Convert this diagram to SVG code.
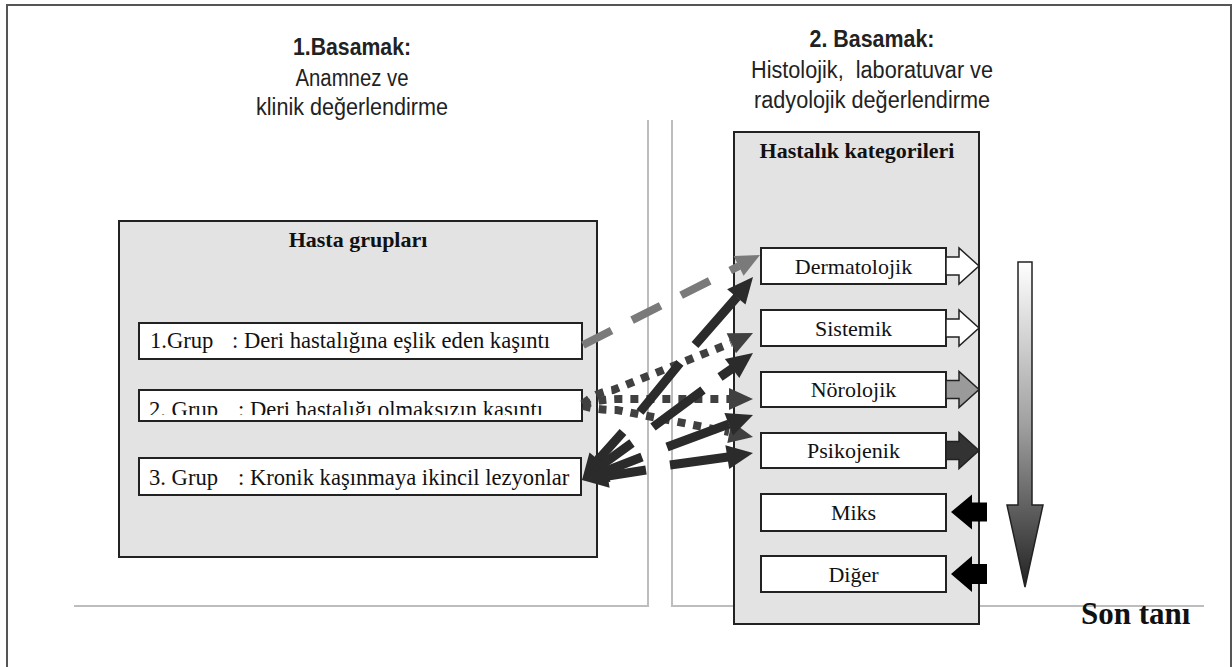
<svg xmlns="http://www.w3.org/2000/svg" width="1232" height="667" viewBox="0 0 1232 667">
<defs>
<style>
.hd{font-family:"Liberation Sans",Arial,sans-serif;font-size:23px;fill:#222;text-anchor:middle}
.b{font-weight:bold}
.sf{font-family:"Liberation Serif","Times New Roman",serif;font-size:22px;fill:#111}
.gt{font-size:22.6px}
.c{text-anchor:middle}
.panel{fill:#e3e3e3;stroke:#222;stroke-width:2}
.box{fill:#fff;stroke:#222;stroke-width:2}
.guide{stroke:#bdbdbd;stroke-width:2;fill:none}
.solid{stroke:#2b2b2b;stroke-width:9;fill:none}
.dot{stroke:#404040;stroke-width:8;fill:none;stroke-dasharray:8 8}
.dash{stroke:#7a7a7a;stroke-width:8;fill:none;stroke-dasharray:32 23}
.blk{stroke:#222;stroke-width:1.5}
</style>
<linearGradient id="g" x1="0" y1="262" x2="0" y2="587" gradientUnits="userSpaceOnUse">
<stop offset="0" stop-color="#ffffff"/>
<stop offset="0.5" stop-color="#a0a0a0"/>
<stop offset="1" stop-color="#222"/>
</linearGradient>
<clipPath id="clip2"><rect x="139" y="390" width="443" height="25"/></clipPath>
</defs>
<rect x="7" y="5" width="1224" height="700" fill="#fff" stroke="#555" stroke-width="2"/>

<g id="guides">
<path class="guide" d="M74,606 H648 V120"/>
<path class="guide" d="M672,120 V606 H1204"/>
</g>

<g id="heading1">
<text class="hd b" x="352" y="55" textLength="118" lengthAdjust="spacingAndGlyphs">1.Basamak:</text>
<text class="hd" x="352" y="86" textLength="113" lengthAdjust="spacingAndGlyphs">Anamnez ve</text>
<text class="hd" x="352" y="115" textLength="192" lengthAdjust="spacingAndGlyphs">klinik değerlendirme</text>
</g>
<g id="heading2">
<text class="hd b" x="872" y="47" textLength="125" lengthAdjust="spacingAndGlyphs">2. Basamak:</text>
<text class="hd" x="872" y="78" style="white-space:pre" textLength="242" lengthAdjust="spacingAndGlyphs">Histolojik,  laboratuvar ve</text>
<text class="hd" x="872" y="108" textLength="236" lengthAdjust="spacingAndGlyphs">radyolojik değerlendirme</text>
</g>

<g id="hasta-gruplari">
<rect class="panel" x="119" y="221" width="478" height="336"/>
<text class="sf b c" x="358" y="247">Hasta grupları</text>
</g>
<g id="grup1">
<rect class="box" x="139" y="323" width="443" height="36"/>
<text class="sf gt" x="150" y="348">1.Grup</text>
<text class="sf gt" x="232" y="348">: Deri hastalığına eşlik eden kaşıntı</text>
</g>
<g id="grup2">
<rect class="box" x="139" y="390" width="443" height="31"/>
<g clip-path="url(#clip2)">
<text class="sf gt" x="149" y="417">2. Grup</text>
<text class="sf gt" x="238" y="417">: Deri hastalığı olmaksızın kaşıntı</text>
</g>
</g>
<g id="grup3">
<rect class="box" x="139" y="458" width="442" height="37"/>
<text class="sf gt" x="149" y="485">3. Grup</text>
<text class="sf gt" x="238" y="485">: Kronik kaşınmaya ikincil lezyonlar</text>
</g>

<g id="hastalik-kategorileri">
<rect class="panel" x="734" y="132" width="245" height="492"/>
<text class="sf b c" x="857" y="158">Hastalık kategorileri</text>
</g>
<g id="dermatolojik">
<rect class="box" x="761" y="248" width="185" height="36"/>
<text class="sf c" x="853.5" y="274">Dermatolojik</text>
<polygon class="blk" fill="#fff" points="946,257 959,257 959,248 979,266 959,284 959,275 946,275"/>
</g>
<g id="sistemik">
<rect class="box" x="761" y="310" width="185" height="36"/>
<text class="sf c" x="853.5" y="336">Sistemik</text>
<polygon class="blk" fill="#fff" points="946,319 959,319 959,310 979,328 959,346 959,337 946,337"/>
</g>
<g id="norolojik">
<rect class="box" x="761" y="372" width="185" height="35"/>
<text class="sf c" x="853.5" y="397">Nörolojik</text>
<polygon class="blk" fill="#9a9a9a" points="946,380.5 959,380.5 959,371.5 979,389.5 959,407.5 959,398.5 946,398.5"/>
</g>
<g id="psikojenik">
<rect class="box" x="761" y="433" width="185" height="35"/>
<text class="sf c" x="853.5" y="458">Psikojenik</text>
<polygon class="blk" fill="#333" points="946,441.5 959,441.5 959,432.5 979,450.5 959,468.5 959,459.5 946,459.5"/>
</g>
<g id="miks">
<rect class="box" x="761" y="494" width="185" height="37"/>
<text class="sf c" x="853.5" y="520">Miks</text>
<polygon fill="#000" points="987,502.5 972,502.5 972,494.5 951,512 972,529.5 972,521.5 987,521.5"/>
</g>
<g id="diger">
<rect class="box" x="761" y="556" width="185" height="36"/>
<text class="sf c" x="853.5" y="582">Diğer</text>
<polygon fill="#000" points="987,564 972,564 972,556 951,574 972,592 972,584 987,584"/>
</g>

<g id="son-tani">
<polygon fill="url(#g)" stroke="#222" stroke-width="1.5" points="1018,262 1032,262 1032,505 1043,505 1025,587 1007,505 1018,505"/>
<text class="sf b" x="1081" y="624" style="font-size:31px">Son tanı</text>
</g>

<g id="connectors">
<path class="dash" d="M583,345 L739,266"/>
<polygon fill="#7a7a7a" points="760,255 733.6,256.1 743.6,275.7"/>

<path class="dot" d="M583,404 Q596,392 613,390 L731,343"/>
<polygon fill="#404040" points="753,333 736,353.2 726.6,333.2"/>
<path class="dot" d="M583,405 Q600,399 620,399 L729,399"/>
<polygon fill="#404040" points="753,399 729,388 729,410"/>
<path class="dot" d="M583,406 Q598,410 617,410 L729,432"/>
<polygon fill="#404040" points="753,437 727.3,443.1 731.7,421.5"/>

<path class="solid" d="M598,460 L623,432 M640,412 L680,363 M695,345 L737,297"/>
<polygon fill="#2b2b2b" points="753,277 745.5,304.6 727.1,289.2"/>
<polygon fill="#2b2b2b" points="582,480 607.9,467.8 589.5,452.4"/>

<path class="solid" d="M603,464 L632,443 M653,427 L703,390 M720,377 L733,368"/>
<polygon fill="#2b2b2b" points="753,353 739.3,378.1 724.9,358.9"/>
<polygon fill="#2b2b2b" points="582,480 610.1,474.1 595.7,454.9"/>

<path class="solid" d="M606,471 L642,457 M667,447 L729,424"/>
<polygon fill="#2b2b2b" points="753,415 733,435.4 724.4,413"/>
<polygon fill="#2b2b2b" points="582,480 610.6,482 602,459.6"/>

<path class="solid" d="M608,476 L646,470 M670,465 L728,457"/>
<polygon fill="#2b2b2b" points="753,453 729.2,469 725.4,445.2"/>
<polygon fill="#2b2b2b" points="582,480 609.6,487.8 605.8,464"/>
</g>
</svg>
